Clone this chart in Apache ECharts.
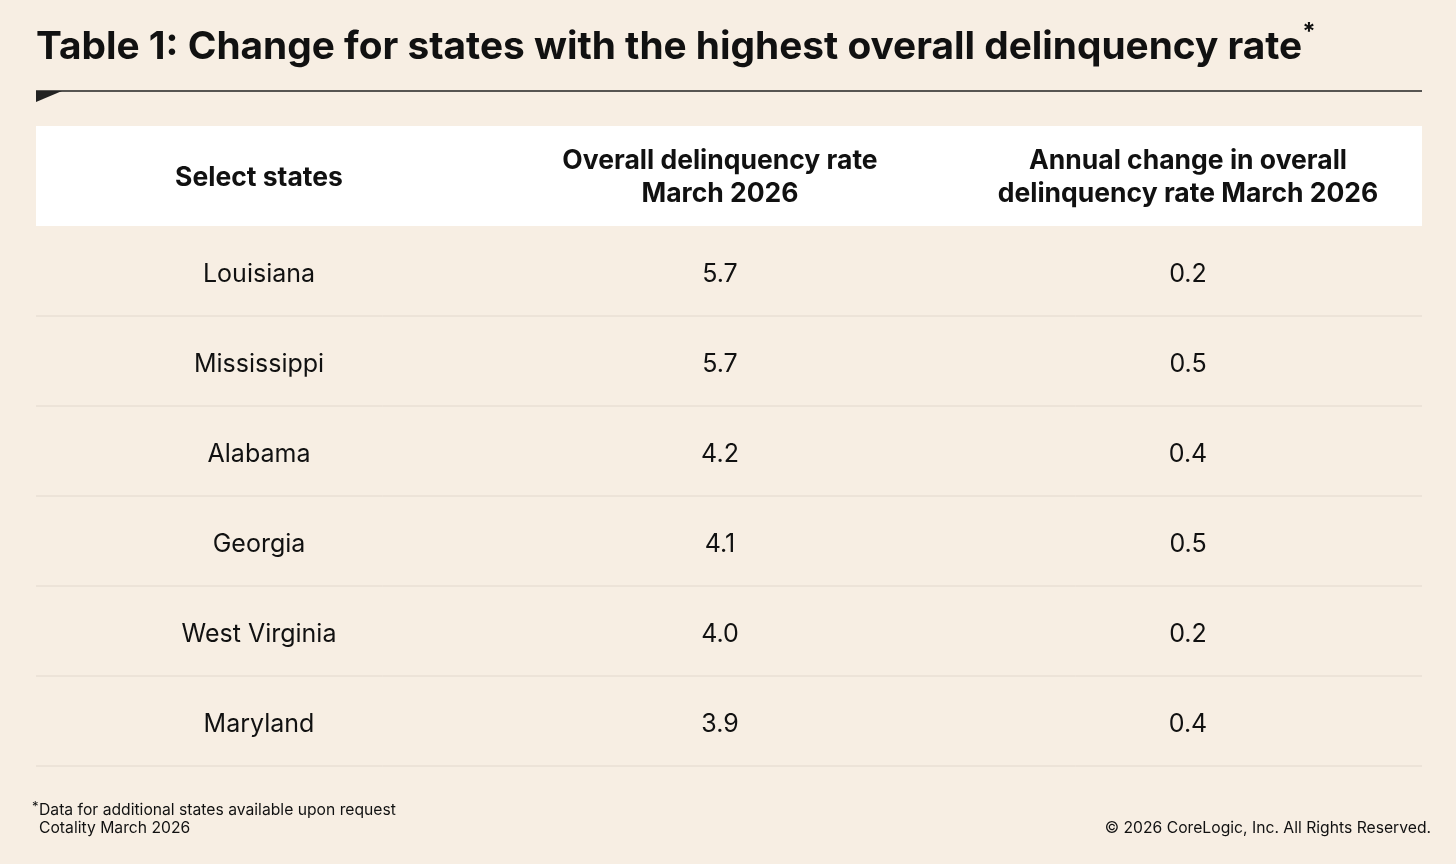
<!DOCTYPE html>
<html><head><meta charset="utf-8">
<script src="https://cdn.jsdelivr.net/npm/echarts@6/dist/echarts.min.js"></script>
<style>html,body{margin:0;background:#f7eee3}#c{width:1456px;height:864px}</style>
</head><body><div id="c"></div>
<script>
var headers = ['Select states', 'Overall delinquency rate\nMarch 2026', 'Annual change in overall\ndelinquency rate March 2026'];
var states = ['Louisiana', 'Mississippi', 'Alabama', 'Georgia', 'West Virginia', 'Maryland'];
var rates = ['5.7', '5.7', '4.2', '4.1', '4.0', '3.9'];
var changes = ['0.2', '0.5', '0.4', '0.5', '0.2', '0.4'];

var chart = echarts.init(document.getElementById('c'));
var F = 'Inter, "Noto Sans", sans-serif';
var colX = [259, 720, 1188];
var g = [];
g.push({type:'text', left:36, top:21, style:{
  text:'{t|Table 1: Change for states with the highest overall delinquency rate}{s|*}',
  rich:{t:{font:'bold 38.8px ' + F, fill:'#111', verticalAlign:'bottom'}, s:{font:'bold 24px ' + F, fill:'#111', verticalAlign:'top', padding:[0,0,22,0]}}}});
g.push({type:'line', shape:{x1:36, y1:91, x2:1422, y2:91}, style:{stroke:'#222', lineWidth:1.5}});
g.push({type:'polygon', shape:{points:[[36,91],[62,91],[36,102]]}, style:{fill:'#222'}});
g.push({type:'rect', shape:{x:36, y:126, width:1386, height:100}, style:{fill:'#fff'}});
headers.forEach(function (h, i) {
  g.push({type:'text', x:colX[i], y:178, style:{text:h, font:'bold 26.5px ' + F, fill:'#111', align:'center', verticalAlign:'middle', lineHeight:33}});
});
states.forEach(function (s, r) {
  var y = 274 + r * 90;
  [s, rates[r], changes[r]].forEach(function (t, i) {
    g.push({type:'text', x:colX[i], y:y, style:{text:t, font:'25px ' + F, fill:'#111', align:'center', verticalAlign:'middle'}});
  });
  g.push({type:'line', shape:{x1:36, y1:r * 90 + 316, x2:1422, y2:r * 90 + 316}, style:{stroke:'#e2d8cd', lineWidth:1}});
});
g.push({type:'text', left:32, top:801, style:{text:'*', font:'13px ' + F, fill:'#111'}});
g.push({type:'text', left:39, top:802, style:{text:'Data for additional states available upon request', font:'15.7px ' + F, fill:'#111'}});
g.push({type:'text', left:39, top:820, style:{text:'Cotality March 2026', font:'15.7px ' + F, fill:'#111'}});
g.push({type:'text', right:25, top:820, style:{text:'© 2026 CoreLogic, Inc. All Rights Reserved.', font:'15.7px ' + F, fill:'#111'}});
chart.setOption({backgroundColor:'#f7eee3', graphic:g});
</script></body></html>
